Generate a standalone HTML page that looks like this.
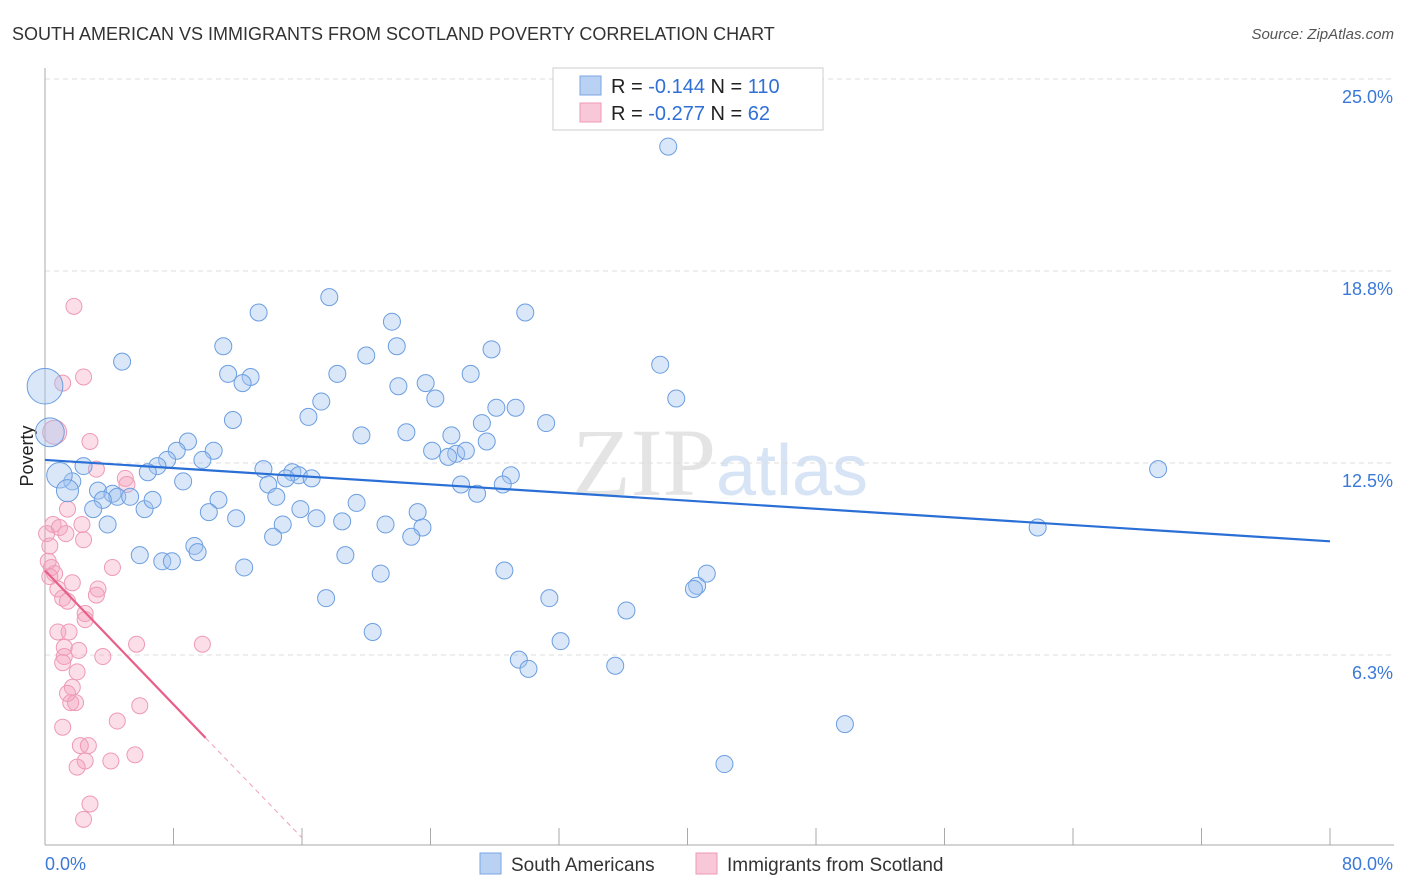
<!DOCTYPE html>
<html><head><meta charset="utf-8"><style>
body{margin:0;background:#fff;font-family:"Liberation Sans",sans-serif}
#wrap{position:relative;width:1406px;height:892px;overflow:hidden}
</style></head><body>
<div id="wrap">
<svg id="svg" width="1406" height="892" xmlns="http://www.w3.org/2000/svg">
<text x="12" y="40" font-size="18" fill="#333">SOUTH AMERICAN VS IMMIGRANTS FROM SCOTLAND POVERTY CORRELATION CHART</text>
<text x="1394" y="39" font-size="15" fill="#555" font-style="italic" text-anchor="end">Source: ZipAtlas.com</text>
<text x="720" y="495" font-size="96" fill="#e4e4e4" text-anchor="middle" font-family="Liberation Serif">ZIP<tspan fill="#d7e4f5" font-family="Liberation Sans" font-size="72">atlas</tspan></text>
<text transform="translate(33,456) rotate(-90)" font-size="18" fill="#222" text-anchor="middle">Poverty</text>
<g id="grid"></g><g id="pts"></g><g id="trends"></g>
<g>
<rect x="553" y="68" width="270" height="62" fill="#fff" stroke="#ccc"/>
<rect x="580" y="76" width="21" height="19" fill="#b9d2f3" stroke="#7aa6e0"/>
<rect x="580" y="103" width="21" height="19" fill="#f9c8d8" stroke="#ee9ab5"/>
<text x="611" y="93" font-size="20" fill="#222">R = <tspan fill="#2f6fd6">-0.144</tspan>   N = <tspan fill="#2f6fd6">110</tspan></text>
<text x="611" y="120" font-size="20" fill="#222">R = <tspan fill="#2f6fd6">-0.277</tspan>   N = <tspan fill="#2f6fd6">  62</tspan></text>
</g>
<g>
<rect x="480" y="853" width="21" height="21" fill="#b9d2f3" stroke="#7aa6e0"/>
<text x="511" y="871" font-size="19" fill="#333">South Americans</text>
<rect x="696" y="853" width="21" height="21" fill="#f9c8d8" stroke="#ee9ab5"/>
<text x="727" y="871" font-size="19" fill="#333">Immigrants from Scotland</text>
</g>
<text x="45" y="870" font-size="18" fill="#3b78d8">0.0%</text>
<text x="1393" y="870" font-size="18" fill="#3b78d8" text-anchor="end">80.0%</text>
</svg>
</div>
<script>
const yTicks=[6.25,12.5,18.75,25];
const yTickLabels=["6.3%","12.5%","18.8%","25.0%"];
const xTicks=[0,8,16,24,32,40,48,56,64,72,80];
const blueX=[38.8,13.3,17.7,21.6,29.9,4.8,11.1,20.0,21.9,27.8,38.3,11.4,12.8,12.3,18.2,22.0,23.7,26.5,24.3,17.2,28.1,29.3,39.3,16.4,11.7,31.2,27.2,19.7,22.5,25.3,27.5,8.9,8.2,10.5,24.1,25.6,26.2,25.1,7.6,9.8,7.0,6.4,13.6,15.4,15.8,15.0,16.6,13.9,8.6,25.9,29.0,28.5,26.9,69.3,2.4,1.7,3.3,4.2,4.5,3.6,5.3,6.2,6.7,3.0,14.4,10.8,19.4,15.9,23.2,10.2,11.9,16.9,18.5,3.9,14.8,21.2,23.5,22.8,14.2,61.8,5.9,9.3,9.5,18.7,7.3,7.9,12.4,20.9,28.6,41.2,40.6,40.4,17.5,31.4,36.2,20.4,32.1,29.5,30.1,35.5,49.8,42.3,0,0.3,0.9,1.4];
const blueY=[22.8,17.4,17.9,17.1,17.4,15.8,16.3,16.0,16.3,16.2,15.7,15.4,15.3,15.1,15.4,15.0,15.1,15.4,14.6,14.5,14.3,14.3,14.6,14.0,13.9,13.8,13.8,13.4,13.5,13.4,13.2,13.2,12.9,12.9,12.9,12.8,12.9,12.7,12.6,12.6,12.4,12.2,12.3,12.2,12.1,12.0,12.0,11.8,11.9,11.8,12.1,11.8,11.5,12.3,12.4,11.9,11.6,11.5,11.4,11.3,11.4,11.0,11.3,11.0,11.4,11.3,11.2,11.0,10.9,10.9,10.7,10.7,10.6,10.5,10.5,10.5,10.4,10.1,10.1,10.4,9.5,9.8,9.6,9.5,9.3,9.3,9.1,8.9,9.0,8.9,8.5,8.4,8.1,8.1,7.7,7.0,6.7,6.1,5.8,5.9,4.0,2.7,15.0,13.5,12.1,11.6];
const blueSize=[1,1,1,1,1,1,1,1,1,1,1,1,1,1,1,1,1,1,1,1,1,1,1,1,1,1,1,1,1,1,1,1,1,1,1,1,1,1,1,1,1,1,1,1,1,1,1,1,1,1,1,1,1,1,1,1,1,1,1,1,1,1,1,1,1,1,1,1,1,1,1,1,1,1,1,1,1,1,1,1,1,1,1,1,1,1,1,1,1,1,1,1,1,1,1,1,1,1,1,1,1,1,2.1,1.7,1.5,1.3];
const pinkX=[1.8,2.4,1.1,2.8,0.6,3.2,5.0,5.1,1.4,0.5,0.9,0.1,0.3,2.3,1.3,2.4,4.2,0.2,0.4,0.6,0.3,1.7,3.3,3.2,0.8,1.1,1.4,2.5,2.5,0.8,1.5,1.2,1.2,2.1,5.7,9.8,3.6,1.1,2.0,1.7,1.6,1.9,1.4,5.9,4.5,1.1,2.2,2.7,2.5,2.0,4.1,5.6,2.8,2.4];
const pinkY=[17.6,15.3,15.1,13.2,13.5,12.3,12.0,11.8,11.0,10.5,10.4,10.2,9.8,10.5,10.2,10.0,9.1,9.3,9.1,8.9,8.8,8.6,8.4,8.2,8.4,8.1,8.0,7.6,7.4,7.0,7.0,6.5,6.2,6.4,6.6,6.6,6.2,6.0,5.7,5.2,4.7,4.7,5.0,4.6,4.1,3.9,3.3,3.3,2.8,2.6,2.8,3.0,1.4,0.9];
const pinkSize=[1,1,1,1,1.5,1,1,1,1,1,1,1,1,1,1,1,1,1,1,1,1,1,1,1,1,1,1,1,1,1,1,1,1,1,1,1,1,1,1,1,1,1,1,1,1,1,1,1,1,1,1,1,1,1];
const blueTrendX=[0,80], blueTrendY=[12.6,9.95];
const pinkTrendX=[0,10,16], pinkTrendY=[9.0,3.55,0.3];

const X0=45,X1=1330,Y0=847;
const xs=v=>X0+(X1-X0)*v/80;
const ys=v=>Y0-v*30.72;
const NS="http://www.w3.org/2000/svg";
function mk(tag,attrs,parent){const e=document.createElementNS(NS,tag);for(const k in attrs)e.setAttribute(k,attrs[k]);parent.appendChild(e);return e;}
const grid=document.getElementById('grid');
yTicks.forEach((t,i)=>{
 const l=mk('line',{x1:45,x2:1394,y1:ys(t),y2:ys(t),stroke:'#ddd','stroke-dasharray':'5,4'},grid);
 
 
 const tx=mk('text',{x:1393,y:ys(t)+24,'font-size':18,fill:'#3b78d8','text-anchor':'end'},grid);
 tx.textContent=yTickLabels[i];
 
 
});
const ax=mk('line',{x1:45,x2:45,y1:68,y2:845,stroke:'#aaa'},grid);


const bx=mk('line',{x1:45,x2:1394,y1:845,y2:845,stroke:'#aaa'},grid);


xTicks.forEach(t=>{const l=mk('line',{x1:xs(t),x2:xs(t),y1:828,y2:845,stroke:'#aaa'},grid);
 
 });
const pts=document.getElementById('pts');
pinkX.forEach((v,i)=>{const c=mk('circle',{cx:xs(v),cy:ys(pinkY[i]),r:8*pinkSize[i],fill:'rgba(244,160,188,0.35)',stroke:'#ee9ab5','stroke-width':1},pts);
 
 });
blueX.forEach((v,i)=>{const c=mk('circle',{cx:xs(v),cy:ys(blueY[i]),r:8.5*blueSize[i],fill:'rgba(160,196,240,0.4)',stroke:'#6c9ee0','stroke-width':1},pts);
 
 });
const tr=document.getElementById('trends');
const bl=mk('line',{x1:xs(blueTrendX[0]),y1:ys(blueTrendY[0]),x2:xs(blueTrendX[1]),y2:ys(blueTrendY[1]),stroke:'#2a6fd6','stroke-width':2.2},tr);


const pl=mk('line',{x1:xs(pinkTrendX[0]),y1:ys(pinkTrendY[0]),x2:xs(pinkTrendX[1]),y2:ys(pinkTrendY[1]),stroke:'#e8608a','stroke-width':2.2},tr);


const pd=mk('line',{x1:xs(pinkTrendX[1]),y1:ys(pinkTrendY[1]),x2:xs(pinkTrendX[2]),y2:ys(pinkTrendY[2]),stroke:'#f0a0b8','stroke-width':1,'stroke-dasharray':'5,4'},tr);


</script>
</body></html>
